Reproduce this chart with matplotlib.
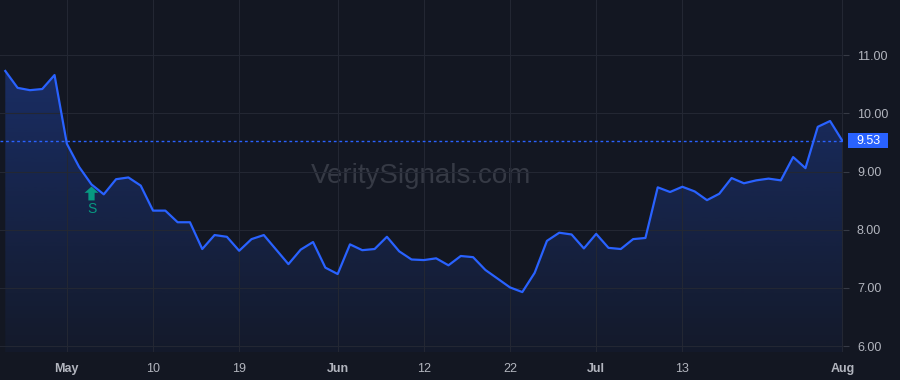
import numpy as np
import matplotlib
matplotlib.use("Agg")
import matplotlib.pyplot as plt
from matplotlib.patches import Polygon, Rectangle
from matplotlib.path import Path

# ---------- data ----------
prices = [
    10.73, 10.44, 10.40, 10.42, 10.66, 9.48, 9.08, 8.78, 8.61, 8.87,
    8.90, 8.76, 8.33, 8.33, 8.13, 8.13, 7.67, 7.91, 7.88, 7.64,
    7.84, 7.91, 7.66, 7.41, 7.66, 7.79, 7.35, 7.24, 7.75, 7.65,
    7.67, 7.88, 7.63, 7.49, 7.48, 7.51, 7.39, 7.55, 7.53, 7.31,
    7.16, 7.01, 6.93, 7.26, 7.81, 7.95, 7.92, 7.68, 7.93, 7.69,
    7.67, 7.84, 7.86, 8.73, 8.65, 8.74, 8.66, 8.51, 8.62, 8.89,
    8.80, 8.85, 8.88, 8.85, 9.25, 9.06, 9.77, 9.87, 9.53,
]
tick_idx = [5, 12, 19, 27, 34, 41, 48, 55, 68]
tick_labels = ["May", "10", "19", "Jun", "12", "22", "Jul", "13", "Aug"]
month_labels = {"May", "Jun", "Jul", "Aug"}
y_ticks = [6.0, 7.0, 8.0, 9.0, 10.0, 11.0]
signal_idx = 7
signal_text = "S"
watermark = "VeritySignals.com"

BG = "#131722"
GRID = "#232733"
LINE = "#2962ff"
TXT = "#b2b5be"
GREEN = "#089981"

plt.rcParams["font.family"] = ["Liberation Sans", "DejaVu Sans"]

fig = plt.figure(figsize=(9, 3.8), dpi=100)
fig.patch.set_facecolor(BG)
ax = fig.add_axes([0, 28 / 380, 843 / 900, 1 - 28 / 380])
ax.set_facecolor(BG)

x = np.arange(len(prices))
y = np.array(prices)
ymin, ymax = 5.9, 11.95
ax.set_xlim(-0.43, 68.05)
ax.set_ylim(ymin, ymax)

# gradient fill under the line
grad = np.linspace(0.30, 0.04, 256).reshape(-1, 1)
rgba = np.zeros((256, 1, 4))
rgba[..., 0] = 41 / 255
rgba[..., 1] = 98 / 255
rgba[..., 2] = 255 / 255
rgba[..., 3] = grad
img = ax.imshow(rgba, aspect="auto", extent=[x[0], x[-1], ymin, y.max()],
                origin="upper", zorder=1)
verts = np.vstack([[x[0], ymin], np.column_stack([x, y]), [x[-1], ymin]])
clip = Polygon(verts, closed=True, facecolor="none", edgecolor="none")
ax.add_patch(clip)
img.set_clip_path(clip)

ax.plot(x, y, color=LINE, lw=1.6, zorder=3, solid_joinstyle="round")

# last price line and label
last = prices[-1]
ax.axhline(last, color=LINE, lw=1, ls=(0, (2, 2)), zorder=2)
ytr = ax.get_yaxis_transform()
ax.add_patch(Rectangle((848 / 843, last - 0.13), 40 / 843, 0.26, transform=ytr,
                       facecolor=LINE, edgecolor="none", clip_on=False, zorder=5))
ax.text(856 / 843, last, f"{last:.2f}", transform=ytr, ha="left", va="center",
        fontsize=9, color="white", clip_on=False, zorder=6)

# signal marker (block up-arrow)
arrow = Path([(-1, 0.1), (0, 1), (1, 0.1), (0.45, 0.1), (0.45, -1),
              (-0.45, -1), (-0.45, 0.1), (-1, 0.1)], closed=True)
ax.plot([signal_idx], [prices[signal_idx] - 0.14], marker=arrow, ms=10,
        color=GREEN, mew=0, zorder=4)
ax.text(signal_idx, prices[signal_idx] - 0.42, signal_text, color=GREEN,
        fontsize=10, ha="center", va="center", zorder=4)

# watermark
ax.text(0.5, 0.5, watermark, transform=ax.transAxes, ha="center", va="center",
        fontsize=20, color="#363a45", zorder=0)

# axes styling
ax.set_xticks(tick_idx)
ax.set_xticklabels(tick_labels)
for lbl in ax.get_xticklabels():
    if lbl.get_text() in month_labels:
        lbl.set_fontweight("bold")
ax.set_yticks(y_ticks)
ax.set_yticklabels([f"{v:.2f}" for v in y_ticks])
ax.yaxis.tick_right()
ax.tick_params(axis="x", length=0, colors=TXT, labelsize=9, pad=8)
ax.tick_params(axis="y", length=4, color="#363a45", colors=TXT, labelsize=9, pad=6)
ax.grid(True, color=GRID, lw=0.8)
for s in ax.spines.values():
    s.set_visible(False)

fig.savefig("out.png", dpi=100, facecolor=BG)
